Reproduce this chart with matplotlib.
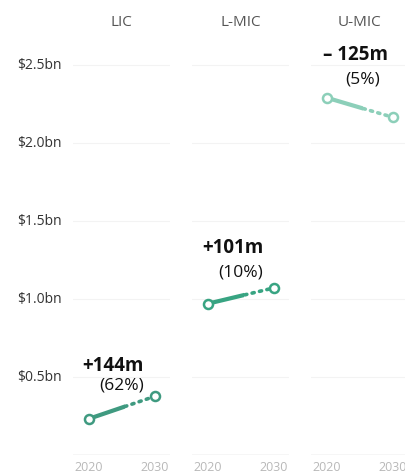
import matplotlib.pyplot as plt
from matplotlib.patches import Rectangle
from matplotlib import transforms

plt.rcParams['font.family'] = ['Open Sans', 'DejaVu Sans']

# Spending by income group, $bn
groups = ["LIC", "L-MIC", "U-MIC"]
years = [2020, 2030]
spend_2020 = [0.232, 0.970, 2.290]
spend_2030 = [0.376, 1.071, 2.165]
change_labels = ["+144m", "+101m", "\u2013 125m"]
pct_labels = ["(62%)", "(10%)", "(5%)"]
y_ticks = [0.5, 1.0, 1.5, 2.0, 2.5]
y_tick_labels = ["\\$0.5bn", "\\$1.0bn", "\\$1.5bn", "\\$2.0bn", "\\$2.5bn"]
line_colors = ["#3f9a80", "#38a482", "#8ccfb9"]
projection_start = 2025.5

# label offsets (pixels) from the midpoint above the higher end
change_offsets = [(-9, 31), (-8, 41), (-4, 44)]
pct_offsets = [(0, 12), (0, 16), (3, 19)]

W, H = 406, 477
fig = plt.figure(figsize=(W / 100, H / 100), dpi=100)
fig.patch.set_facecolor("white")

panel_lefts = [73, 192, 311]
panel_w = 97
ax_bottom, ax_top = 456, 27
y_max = 2.75
x_lim = (2017.6, 2032.3)

axes = []
for i, g in enumerate(groups):
    ax = fig.add_axes([panel_lefts[i] / W, (H - ax_bottom) / H,
                       panel_w / W, (ax_bottom - ax_top) / H])
    ax.patch.set_visible(False)
    ax.set_xlim(*x_lim)
    ax.set_ylim(0, y_max)
    for s in ax.spines.values():
        s.set_visible(False)
    ax.tick_params(left=False, bottom=False, labelleft=False)
    ax.set_xticks(years)
    ax.set_xticklabels([str(y) for y in years], color="#b8b8b8", fontsize=9)
    ax.tick_params(axis='x', pad=0)
    for yt in y_ticks:
        ax.axhline(yt, color="#f3f3f3", lw=0.8, zorder=0)
    ax.axhline(0, color="#d6d6d6", lw=1.0, zorder=1)

    vals = [spend_2020[i], spend_2030[i]]
    c = line_colors[i]
    solid, = ax.plot(years, vals, color=c, lw=3, solid_capstyle='round', zorder=3)
    solid.set_clip_path(Rectangle((x_lim[0], -1), projection_start - x_lim[0], 10,
                                  transform=ax.transData))
    dotted, = ax.plot(years, vals, color=c, lw=2.6, linestyle=(0, (0.6, 1.5)),
                      dash_capstyle='round', zorder=3)
    dotted.set_clip_path(Rectangle((projection_start, -1), x_lim[1] - projection_start, 10,
                                   transform=ax.transData))
    ax.plot(years, vals, 'o', mfc='white', mec=c, ms=6.5, mew=1.8, zorder=5)

    top = max(vals)
    mid = sum(years) / 2
    ax.annotate(change_labels[i], xy=(mid, top), xytext=change_offsets[i],
                textcoords='offset pixels', ha='center', va='center',
                fontsize=13.5, fontweight='bold', color="#111111")
    ax.annotate(pct_labels[i], xy=(mid, top), xytext=pct_offsets[i],
                textcoords='offset pixels', ha='center', va='center',
                fontsize=12.5, color="#111111")

    tr = transforms.blended_transform_factory(ax.transAxes, fig.transFigure)
    ax.text(0.5, 1 - 22 / H, g, transform=tr, ha='center', va='center',
            fontsize=11, color="#555555")
    axes.append(ax)

tr_y = transforms.blended_transform_factory(fig.transFigure, axes[0].transData)
for yt, lab in zip(y_ticks, y_tick_labels):
    fig.text(17 / W, yt, lab, transform=tr_y, ha='left', va='center',
             fontsize=10, color="#333333")

fig.savefig("out.png", dpi=100)
